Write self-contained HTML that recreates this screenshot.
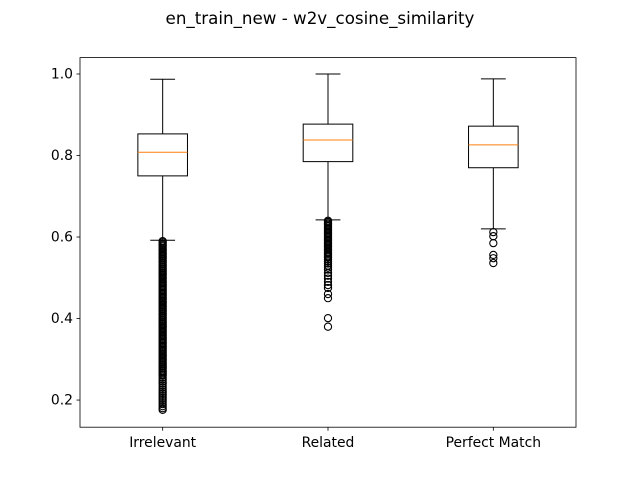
<!DOCTYPE html>
<html><head><meta charset="utf-8"><style>
body{margin:0;background:#fff}
svg text{font-family:"DejaVu Sans","Liberation Sans",sans-serif;fill:#000}
</style></head><body>
<svg id="c" width="640" height="480" viewBox="0 0 640 480">
<rect width="640" height="480" fill="#fff"/>
<text x="320" y="24" font-size="16.7" text-anchor="middle">en_train_new - w2v_cosine_similarity</text>
<g id="plot"></g>
<rect x="80" y="57.6" width="496" height="369.6" fill="none" stroke="#000" stroke-width="0.8"/>
</svg>
<script>
const categories = ["Irrelevant","Related","Perfect Match"];
const whiskerHigh = [0.987, 1.0, 0.988];
const q3 = [0.853, 0.877, 0.872];
const medians = [0.808, 0.838, 0.826];
const q1 = [0.750, 0.785, 0.770];
const whiskerLow = [0.592, 0.642, 0.620];
const outliersIrrelevant = [0.590,0.587,0.583,0.580,0.577,0.573,0.570,0.567,0.563,0.560,0.557,0.553,0.550,0.547,0.543,0.540,0.537,0.533,0.530,0.527,0.523,0.520,0.517,0.513,0.510,0.507,0.503,0.500,0.497,0.493,0.490,0.487,0.483,0.480,0.477,0.473,0.470,0.467,0.463,0.460,0.457,0.453,0.450,0.447,0.443,0.440,0.437,0.433,0.430,0.427,0.423,0.420,0.417,0.413,0.410,0.407,0.403,0.400,0.397,0.393,0.390,0.387,0.383,0.380,0.377,0.373,0.370,0.367,0.363,0.360,0.357,0.353,0.350,0.347,0.343,0.340,0.337,0.333,0.330,0.327,0.323,0.320,0.317,0.313,0.310,0.307,0.303,0.300,0.297,0.293,0.290,0.287,0.283,0.280,0.277,0.273,0.270,0.267,0.263,0.260,0.255,0.250,0.245,0.240,0.235,0.230,0.225,0.220,0.215,0.210,0.205,0.200,0.195,0.190,0.185,0.180,0.176];
const outliersRelated = [0.640,0.637,0.633,0.630,0.627,0.623,0.620,0.617,0.613,0.610,0.607,0.603,0.600,0.597,0.593,0.590,0.587,0.583,0.580,0.577,0.573,0.570,0.567,0.563,0.560,0.557,0.553,0.550,0.545,0.540,0.535,0.530,0.525,0.520,0.512,0.505,0.498,0.490,0.482,0.475,0.460,0.450,0.401,0.380];
const outliersPerfect = [0.612,0.602,0.585,0.556,0.548,0.536];
const outliers = [outliersIrrelevant, outliersRelated, outliersPerfect];
const yTicks = [0.2,0.4,0.6,0.8,1.0];
const yTickLabels = ["0.2","0.4","0.6","0.8","1.0"];

const L=80,R=576,T=57.6,B=427.2, ymin=0.1334, ymax=1.0402;
const y = v => B - (v-ymin)/(ymax-ymin)*(B-T);
const x = i => L + (i+0.5)/categories.length*(R-L);
const NS="http://www.w3.org/2000/svg";
const g=document.getElementById('plot');
function mk(tag,attrs){const e=document.createElementNS(NS,tag);for(const k in attrs)e.setAttribute(k,attrs[k]);g.appendChild(e);return e;}

yTicks.forEach((t,i)=>{
  const tk=mk('line',{x1:L-3.5,x2:L,y1:y(t),y2:y(t),stroke:'#000','stroke-width':0.8});
  
  
  const lb=mk('text',{x:L-7,y:y(t)+4.5,'font-size':13.9,'text-anchor':'end'});
  lb.textContent=yTickLabels[i];
  
  
});
categories.forEach((c,i)=>{
  const cx=x(i), hw=24.8, cw=12.4;
  const tk=mk('line',{x1:cx,x2:cx,y1:B,y2:B+3.5,stroke:'#000','stroke-width':0.8});
  
  
  const lb=mk('text',{x:cx,y:B+20,'font-size':13.9,'text-anchor':'middle'});
  lb.textContent=c;
  
  
  const wu=mk('line',{x1:cx,x2:cx,y1:y(q3[i]),y2:y(whiskerHigh[i]),stroke:'#000'});
  
  
  const wl=mk('line',{x1:cx,x2:cx,y1:y(q1[i]),y2:y(whiskerLow[i]),stroke:'#000'});
  
  
  const cu=mk('line',{x1:cx-cw,x2:cx+cw,y1:y(whiskerHigh[i]),y2:y(whiskerHigh[i]),stroke:'#000'});
  
  
  const cl=mk('line',{x1:cx-cw,x2:cx+cw,y1:y(whiskerLow[i]),y2:y(whiskerLow[i]),stroke:'#000'});
  
  
  const bx=mk('rect',{x:cx-hw,y:y(q3[i]),width:2*hw,height:y(q1[i])-y(q3[i]),fill:'none',stroke:'#000'});
  
  
  const md=mk('line',{x1:cx-hw,x2:cx+hw,y1:y(medians[i]),y2:y(medians[i]),stroke:'#ff7f0e'});
  
  
  outliers[i].forEach(v=>{
    const o=mk('circle',{cx:cx,cy:y(v),r:3.6,fill:'none',stroke:'#000','stroke-width':1.1});
    
    
  });
});
</script>
</body></html>
